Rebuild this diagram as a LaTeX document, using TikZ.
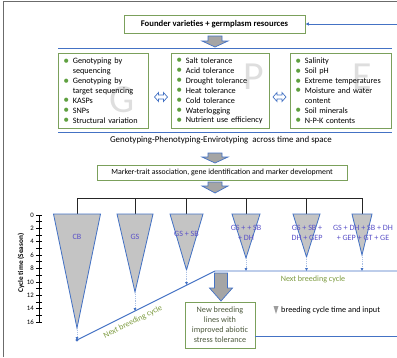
\documentclass[tikz,border=0pt]{standalone}
\usepackage{fontspec}
\setmainfont{Carlito}
\usepackage{tikz}
\usetikzlibrary{positioning,arrows.meta,calc}
\definecolor{frame}{HTML}{6B6B6B}
\definecolor{lineblue}{HTML}{4472C4}
\definecolor{boxgreen}{HTML}{7BA05B}
\definecolor{bulgreen}{HTML}{5FA040}
\definecolor{arrgray}{HTML}{A5A5A5}
\definecolor{trigray}{HTML}{C4C4C4}
\definecolor{trilabel}{HTML}{5B52C8}
\definecolor{cyclegreen}{HTML}{7C9A3E}
\definecolor{boxtext}{HTML}{4E5A3E}
\definecolor{wmark}{HTML}{DEDEDE}

\newcommand{\bul}{\makebox[1.15em][l]{\textcolor{bulgreen}{\raisebox{-0.1ex}{\fontsize{10}{8}\selectfont\textbullet}}}}
\newcommand{\ind}{\hspace*{1.15em}}
% fat arrow pointing down: x, top, head start, tip, shaft half, head half
\newcommand{\fatdown}[6]{%
  \draw[fatarr] ({#1-#5},#2) -- ({#1+#5},#2) -- ({#1+#5},#3) -- ({#1+#6},#3)
    -- (#1,#4) -- ({#1-#6},#3) -- ({#1-#5},#3) -- cycle;}
% double arrow, left-right: x, y
\newcommand{\dblarr}[2]{%
  \draw[dblarrow] ({#1-6.5},#2) -- ({#1-2.5},{#2-4.5}) -- ({#1-2.5},{#2-2})
    -- ({#1+2.5},{#2-2}) -- ({#1+2.5},{#2-4.5}) -- ({#1+6.5},#2)
    -- ({#1+2.5},{#2+4.5}) -- ({#1+2.5},{#2+2}) -- ({#1-2.5},{#2+2})
    -- ({#1-2.5},{#2+4.5}) -- cycle;}

\begin{document}
\begin{tikzpicture}[x=0.03cm, y=-0.03cm,
    greenbox/.style={draw=boxgreen, line width=0.7pt, fill=white, align=center},
    itembox/.style={draw=boxgreen, line width=0.7pt, anchor=north west, align=left,
                    inner xsep=0.15cm, minimum height=2.25cm,
                    font=\fontsize{7}{8.5}\selectfont},
    fatarr/.style={draw=lineblue, fill=arrgray, line width=0.6pt},
    dblarrow/.style={draw=lineblue, fill=white, line width=0.6pt},
    blueline/.style={draw=lineblue, line width=0.8pt},
    bracket/.style={draw=black!85, line width=0.7pt},
    tri/.style={draw=lineblue, fill=trigray, line width=0.7pt, line join=miter},
    dashlink/.style={draw=lineblue!45, densely dotted, line width=0.6pt,
                     -{Latex[length=2.4pt,width=2.6pt,color=lineblue]}},
    trilab/.style={text=trilabel, font=\fontsize{6.9}{8.5}\selectfont, align=center,
                   inner sep=0pt},
    cyclelabel/.style={text=cyclegreen, font=\fontsize{6.9}{8}\selectfont, inner sep=0pt},
    wmk/.style={text=wmark, font=\fontsize{34}{34}\selectfont, inner sep=0pt},
    axis/.style={draw=black, line width=0.6pt},
]
\useasboundingbox (0,0) rectangle (397,357);

% frame
\draw[frame, line width=0.8pt] (3,357) -- (3,1) -- (397,1);

% founder
\node[greenbox, minimum width=5.43cm, minimum height=0.54cm,
      font=\bfseries\fontsize{7.4}{9}\selectfont] (founder) at (214.5,24)
      {Founder varieties + germplasm resources};
\coordinate (loopin) at (397,24);
\draw[blueline, -{Latex[length=3pt,width=3pt]}] (loopin) -- (founder.east);

\fatdown{215}{36}{41}{47}{7}{13}
\draw[blueline] (58,48) -- (392,48);

% G P E
\node[wmk] (wg) at (122,100) {G};
\node[wmk] (wp) at (254,77) {P};
\node[wmk] (we) at (362,77) {E};

\node[itembox, text width=2.4cm] (gbox) at (58,53)
  {\bul Genotyping by\\\ind sequencing\\
   \bul Genotyping by\\\ind target sequencing\\
   \bul KASPs\\
   \bul SNPs\\
   \bul Structural variation};
\node[itembox, text width=2.64cm] (pbox) at (171,53)
  {\bul Salt tolerance\\
   \bul Acid tolerance\\
   \bul Drought tolerance\\
   \bul Heat tolerance\\
   \bul Cold tolerance\\
   \bul Waterlogging\\
   \bul Nutrient use efficiency};
\node[itembox, text width=2.73cm] (ebox) at (290,53)
  {\bul Salinity\\
   \bul Soil pH\\
   \bul Extreme temperatures\\
   \bul Moisture and water\\\ind content\\
   \bul Soil minerals\\
   \bul N-P-K contents};

\dblarr{161}{97}
\dblarr{279.5}{97}

\draw[blueline] (58,132) -- (392,132);
\node[font=\fontsize{7.6}{9}\selectfont] (gpe) at (221,140)
  {Genotyping-Phenotyping-Envirotyping\ \ across time and space};

\fatdown{215}{153}{157}{163}{7}{13}
\node[greenbox, line width=0.5pt, minimum width=7.5cm, minimum height=0.39cm,
      font=\fontsize{6.7}{8}\selectfont] (mta) at (222,172.5)
  {Marker-trait association, gene identification and marker development};
\fatdown{215}{182}{186}{193}{7}{13}

% bracket and triangles
\draw[bracket] (77,198) -- (362,198);
\foreach \cx/\hw/\ap/\dt in {77/23.5/328/340, 135/18/292/311,
    186.5/16.5/270/285, 246/14/258/271, 306.5/13.5/257/271, 362/10/255/271}{
  \draw[bracket] (\cx,198) -- (\cx,214);
  \draw[tri] ({\cx-\hw},214) -- ({\cx+\hw},214) -- (\cx,\ap) -- cycle;
  \draw[dashlink] (\cx,\ap) -- (\cx,\dt);
}
\node[trilab] (lcb) at (77,237) {CB};
\node[trilab] (lgs) at (135,237) {GS};
\node[trilab] (lgssb) at (186.5,234) {GS + SB};
\node[trilab] (lt4) at (246,233) {GS + + SB\\+ DH};
\node[trilab] (lt5) at (307,233) {GS + SB +\\DH + GEP};
\node[trilab] (lt6) at (363,233) {GS + DH + SB + DH\\+ GEP + GT + GE};

% cycle time axis
\draw[axis] (39,215) -- (39,322);
\foreach \s in {0,...,16}
  \draw[axis] (36,{215+6.6875*\s}) -- (42,{215+6.6875*\s});
\foreach \s in {0,2,...,16}
  \node[anchor=east, inner sep=0pt, font=\fontsize{5.8}{6}\selectfont] (yl\s)
    at (34,{215+6.6875*\s}) {\s};
\node[rotate=90, font=\bfseries\fontsize{6.2}{7}\selectfont] (ytitle) at (21,263)
  {Cycle time (Season)};

% next breeding cycle
\coordinate (cbdot) at (77,340);
\coordinate (bend) at (215,271);
\coordinate (loopout) at (397,271);
\draw[blueline] (cbdot) -- (bend) -- (loopout);
\fill[lineblue] (cbdot) circle (1.3pt);
\node[cyclelabel, rotate=26.57] (nbc1) at (133,322) {Next breeding cycle};
\node[cyclelabel] (nbc2) at (313,279) {Next breeding cycle};

\fatdown{221}{273}{288}{301}{6.5}{11.5}
\node[greenbox, minimum width=2.1cm, minimum height=1.38cm, text=boxtext,
      font=\fontsize{7}{8.6}\selectfont] (newlines) at (220,325)
  {New breeding\\lines with\\improved abiotic\\stress tolerance};
\coordinate (loopend) at (397,336);
\draw[blueline] (newlines.east |- loopend) -- (loopend);

% legend
\fill[trigray!80!black] (273.5,306) -- (278.5,306) -- (276,314) -- cycle;
\node[anchor=west, inner sep=0pt, font=\fontsize{7}{8}\selectfont] (legend) at (281,310)
  {breeding cycle time and input};
\end{tikzpicture}
\end{document}
